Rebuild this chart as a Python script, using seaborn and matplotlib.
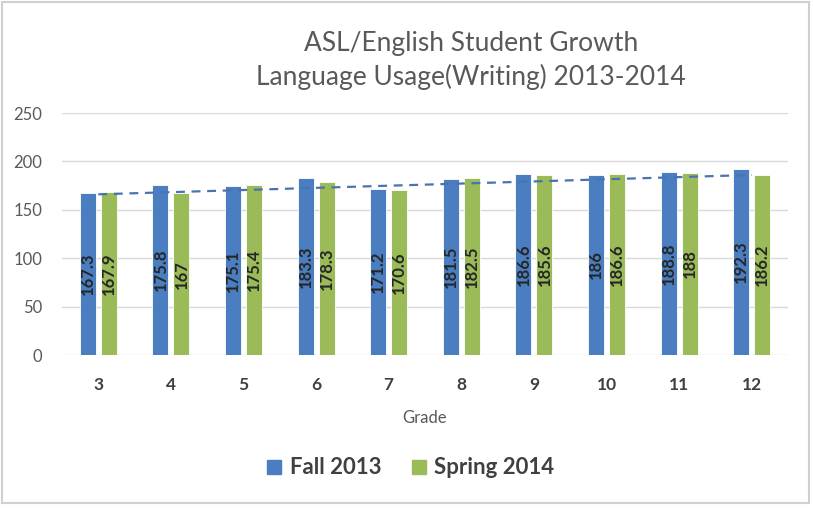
import numpy as np
import pandas as pd
import matplotlib
matplotlib.use("Agg")
import matplotlib.pyplot as plt
import seaborn as sns
from matplotlib.patches import Rectangle

# Grade-level mean scores, Language Usage (Writing)
grades = ["3", "4", "5", "6", "7", "8", "9", "10", "11", "12"]
fall_2013 = [167.3, 175.8, 175.1, 183.3, 171.2, 181.5, 186.6, 186, 188.8, 192.3]
spring_2014 = [167.9, 167, 175.4, 178.3, 170.6, 182.5, 185.6, 186.6, 188, 186.2]
series_names = ["Fall 2013", "Spring 2014"]
# Trend line level at the first and last grade
trend_ends = [166.0, 186.0]

colors = {"Fall 2013": "#4A7EC0", "Spring 2014": "#9BBB59"}

df = pd.DataFrame({
    "Grade": grades * 2,
    "Score": fall_2013 + spring_2014,
    "Term": [series_names[0]] * len(grades) + [series_names[1]] * len(grades),
})

sns.set_theme(style="white")
plt.rcParams["font.family"] = ["Lato", "DejaVu Sans"]

fig = plt.figure(figsize=(8.13, 5.08), dpi=100)
ax = fig.add_axes([62 / 813, 1 - 355 / 508, (788 - 62) / 813, (355 - 113) / 508])

sns.barplot(data=df, x="Grade", y="Score", hue="Term", order=grades,
            hue_order=series_names, palette=colors, saturation=1,
            width=0.58, gap=0.24, edgecolor="white", linewidth=0.6,
            ax=ax, legend=False)

# Value labels centred inside each bar
for container, vals in zip(ax.containers, [fall_2013, spring_2014]):
    for bar, v in zip(container, vals):
        ax.text(bar.get_x() + bar.get_width() / 2, v / 2, f"{v:g}",
                rotation=90, ha="center", va="center", fontsize=12,
                fontweight="bold", color="#262626")

# Dashed trend line
ax.plot([0, len(grades) - 1], trend_ends, linestyle=(0, (4, 3)),
        color="#4A72B0", linewidth=1.6, zorder=5)

ax.set_ylim(0, 250)
ax.set_xlim(-0.5, len(grades) - 0.5)
ax.set_yticks(range(0, 251, 50))
ax.yaxis.grid(True, color="#D9D9D9", linewidth=1)
ax.set_axisbelow(True)
for s in ax.spines.values():
    s.set_visible(False)
ax.tick_params(axis="y", length=0, pad=14, labelsize=12, labelcolor="#595959")
ax.tick_params(axis="x", length=0, pad=16, labelsize=12.5, labelcolor="#404040")
for lbl in ax.get_xticklabels():
    lbl.set_fontweight("bold")
ax.set_ylabel("")
ax.set_xlabel("Grade", fontsize=12, color="#595959", labelpad=12)

fig.text(471 / 813, 1 - 44 / 508, "ASL/English Student Growth",
         ha="center", va="center", fontsize=19, color="#595959")
fig.text(471 / 813, 1 - 77 / 508, "Language Usage(Writing) 2013-2014",
         ha="center", va="center", fontsize=19, color="#595959")

handles = [Rectangle((0, 0), 1, 1, color=colors[n]) for n in series_names]
fig.legend(handles, series_names, loc="center", bbox_to_anchor=(411 / 813, 1 - 468 / 508),
           ncol=2, frameon=False, handlelength=0.6, handleheight=0.6,
           handletextpad=0.4, columnspacing=1.4,
           prop={"size": 16, "weight": "bold"}, labelcolor="#404040")

# Chart frame
fig.patches.append(Rectangle((2 / 813, 5 / 508), 807 / 813, 501 / 508,
                             transform=fig.transFigure, fill=False,
                             edgecolor="#D0D0D0", linewidth=1.5))

fig.savefig("out.png", dpi=100, facecolor="white")
